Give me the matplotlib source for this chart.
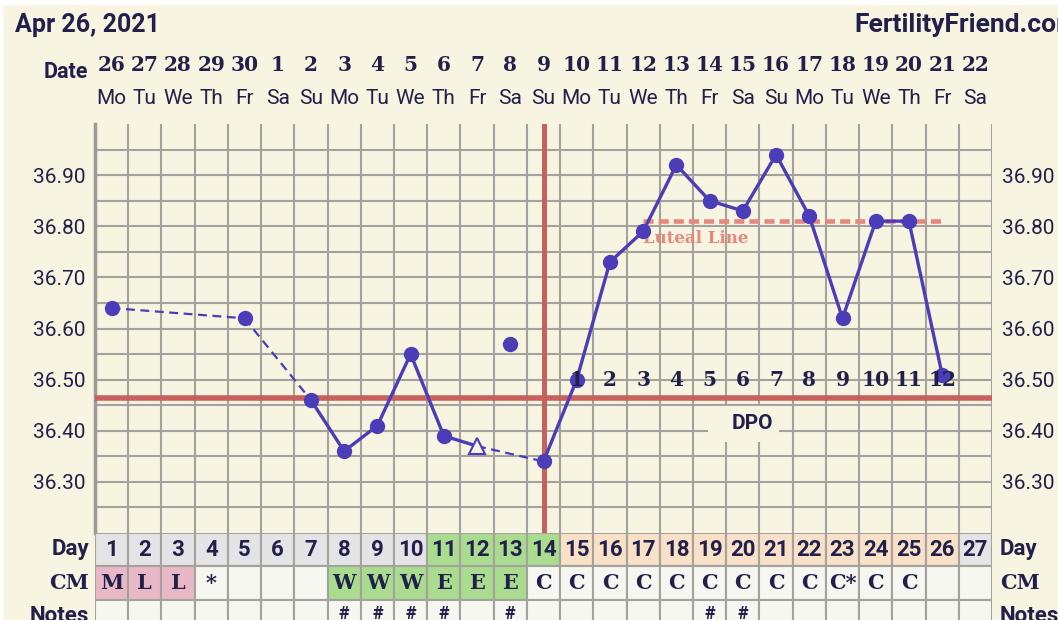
import matplotlib
matplotlib.use('Agg')
import matplotlib.pyplot as plt
import matplotlib.transforms as mtransforms
from matplotlib.patches import Rectangle
import numpy as np

plt.rcParams['font.family'] = ['Roboto', 'DejaVu Sans']

W, H = 1058, 620

# chart data
dates = ['26', '27', '28', '29', '30', '1', '2', '3', '4', '5', '6', '7', '8', '9',
         '10', '11', '12', '13', '14', '15', '16', '17', '18', '19', '20', '21', '22']
weekdays = ['Mo', 'Tu', 'We', 'Th', 'Fr', 'Sa', 'Su'] * 3 + ['Mo', 'Tu', 'We', 'Th', 'Fr', 'Sa']
cycle_days = list(range(1, 28))
temps = [36.64, np.nan, np.nan, np.nan, 36.62, np.nan, 36.46, 36.36, 36.41, 36.55,
         36.39, 36.37, 36.57, 36.34, 36.50, 36.73, 36.79, 36.92, 36.85, 36.83,
         36.94, 36.82, 36.62, 36.81, 36.81, 36.51, np.nan]
solid_runs = [(7, 12), (14, 26)]
dashed_links = [(1, 5), (5, 7), (12, 14)]
excluded_days = [13]
open_days = [12]
coverline = 36.465
ovulation_day = 14
luteal_value = 36.81
luteal_span = (17, 26)
cm = ['M', 'L', 'L', '*', '', '', '', 'W', 'W', 'W', 'E', 'E', 'E', 'C', 'C', 'C',
      'C', 'C', 'C', 'C', 'C', 'C', 'C*', 'C', 'C', '', '']
note_days = [8, 9, 10, 11, 13, 19, 20]
fertile_days = [11, 12, 13, 14]
menses_days = [1, 2, 3]
cm_fertile_days = [8, 9, 10, 11, 12, 13]

CREAM = '#F7F4E1'
NAVY = '#221F4B'
GRID = '#A3A29C'
LINE = '#4B3CB8'
RED = '#C8605C'
SALMON = '#E6887E'
GRAY_CELL = '#E4E4E6'
GREEN = '#A9DC8E'
PEACH = '#F9E1C8'
PINK = '#E8B8C6'
WHITE_CELL = '#F7F7F2'

def fy(px):
    return 1 - px / H

fig = plt.figure(figsize=(W / 100, H / 100), dpi=100, facecolor='white')
fig.add_artist(Rectangle((3 / W, 0), 1, 1 - 5 / H, transform=fig.transFigure,
                         facecolor=CREAM, edgecolor='none', zorder=-10))

ax = fig.add_axes([95 / W, (H - 533) / H, 897 / W, (533 - 124) / H])
ax.set_facecolor(CREAM)
ax.set_xlim(0.5, 27.5)
ax.set_ylim(36.20, 37.00)
ax.set_xticks(np.arange(0.5, 28, 1))
ax.set_yticks(np.arange(36.30, 36.91, 0.10))
ax.set_yticks(np.arange(36.25, 36.96, 0.10), minor=True)
ax.set_yticklabels([f'{v:.2f}' for v in np.arange(36.30, 36.91, 0.10)])
ax.grid(True, which='both', color=GRID, lw=1.5)
ax.set_axisbelow(True)
ax.tick_params(which='both', length=0, pad=7, labelbottom=False,
               labelleft=True, labelright=True, labelsize=15, labelcolor=NAVY)
for s in ['top', 'right', 'bottom']:
    ax.spines[s].set_visible(False)
ax.spines['left'].set_color('#9B9A94')
ax.spines['left'].set_linewidth(2.5)

d = np.array(cycle_days)
t = np.array(temps)

ax.axhline(coverline, color=RED, lw=4, zorder=3)
ax.plot([ovulation_day, ovulation_day], [36.205, 37.0], color=RED, lw=3.6, zorder=3)
ax.plot(luteal_span, [luteal_value] * 2, color=SALMON, lw=3.3,
        ls=(0, (2.2, 1.1)), zorder=3)
ax.text(luteal_span[0], 36.777, 'Luteal Line', color=SALMON, fontfamily='DejaVu Serif',
        weight='bold', size=12, ha='left', va='center', zorder=3)

for a, b in solid_runs:
    m = (d >= a) & (d <= b) & ~np.isin(d, excluded_days)
    ax.plot(d[m], t[m], color=LINE, lw=2.4, zorder=4)
for a, b in dashed_links:
    ax.plot([a, b], [t[a - 1], t[b - 1]], color=LINE, lw=1.6, ls=(0, (4, 2.5)), zorder=4)

dots = ~np.isnan(t) & ~np.isin(d, open_days)
ax.plot(d[dots], t[dots], 'o', color=LINE, ms=10, zorder=5)
op = np.isin(d, open_days)
ax.plot(d[op], t[op], '^', mfc=CREAM, mec=LINE, mew=1.5, ms=11, zorder=5)

for i, day in enumerate(range(ovulation_day + 1, 27), start=1):
    ax.text(day, 36.50, str(i), ha='center', va='center', fontfamily='DejaVu Serif',
            weight='bold', size=14.5, color=NAVY, zorder=6)
ax.add_patch(Rectangle((18.95, 36.378), 2.14, 0.071, fc=CREAM, ec='none', zorder=2))
ax.text(20.3, 36.414, 'DPO', ha='center', va='center', weight='bold', size=15,
        color=NAVY, zorder=6)

# header
trans = mtransforms.blended_transform_factory(ax.transData, fig.transFigure)
for day, ds, wd in zip(cycle_days, dates, weekdays):
    ax.text(day, fy(65), ds, transform=trans, ha='center', va='center',
            fontfamily='DejaVu Serif', weight='bold', size=14.5, color=NAVY)
    ax.text(day, fy(98), wd, transform=trans, ha='center', va='center',
            size=15, color=NAVY)
fig.text(15 / W, fy(32), 'Apr 26, 2021', ha='left', va='baseline', weight='bold',
         size=18, color=NAVY)
fig.text(854 / W, fy(32), 'FertilityFriend.com', ha='left', va='baseline',
         weight='bold', size=19, color=NAVY)
fig.text(88 / W, fy(72), 'Date', ha='right', va='center', weight='bold',
         size=15.5, color=NAVY)

# table under the chart
tab = fig.add_axes([95 / W, (H - 633) / H, 897 / W, 100 / H])
tab.set_xlim(0.5, 27.5)
tab.set_ylim(3, 0)
tab.axis('off')
for day in cycle_days:
    if day in fertile_days:
        c0 = GREEN
    elif ovulation_day < day <= 26:
        c0 = PEACH
    else:
        c0 = GRAY_CELL
    if day in menses_days:
        c1 = PINK
    elif day in cm_fertile_days:
        c1 = GREEN
    else:
        c1 = WHITE_CELL
    for row, c in enumerate([c0, c1, WHITE_CELL]):
        tab.add_patch(Rectangle((day - 0.5, row), 1, 1, fc=c, ec=GRID, lw=1.5))
    tab.text(day, 0.5, str(day), ha='center', va='center', weight='bold',
             size=16, color=NAVY)
    tab.text(day, 1.5, cm[day - 1], ha='center', va='center',
             fontfamily='DejaVu Serif', weight='bold', size=15, color=NAVY)
    if day in note_days:
        tab.text(day, 2.42, '#', ha='center', va='center', weight='bold',
                 size=13, color=NAVY)

for x, ha in [(89 / W, 'right'), (1000 / W, 'left')]:
    fig.text(x, fy(549), 'Day', ha=ha, va='center', weight='bold', size=16, color=NAVY)
    fig.text(x, fy(583), 'CM', ha=ha, va='center', fontfamily='DejaVu Serif',
             weight='bold', size=15, color=NAVY)
    fig.text(x, fy(616), 'Notes', ha=ha, va='center', weight='bold', size=16, color=NAVY)

fig.savefig('out.png', dpi=100, facecolor=fig.get_facecolor())
